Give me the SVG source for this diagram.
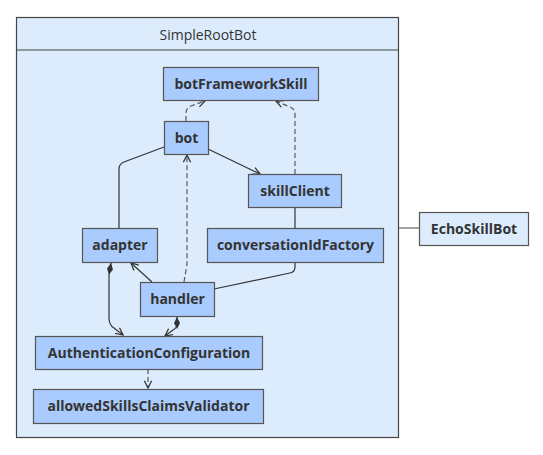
<svg xmlns="http://www.w3.org/2000/svg" width="543" height="455" viewBox="0 0 543 455">
<defs>
<style>
.n{fill:#a9cbfd;stroke:#555;stroke-width:1.2}
.lt{fill:#dcecfd;stroke:#555;stroke-width:1.2}
.t{font-family:"Open Sans","Noto Sans",sans-serif;font-weight:bold;font-size:14px;fill:#333;text-anchor:middle}
.c{fill:none;stroke:#333;stroke-width:1.2}
.d{stroke-dasharray:5,3;stroke:#555}
</style>
<marker id="a" viewBox="0 0 10 10" refX="9" refY="5" markerWidth="9" markerHeight="9" markerUnits="userSpaceOnUse" orient="auto">
<path d="M1,1 L9,5 L1,9" fill="none" stroke="#333" stroke-width="1.4"/>
</marker>
<marker id="dm" viewBox="0 0 12 6" refX="0" refY="3" markerWidth="12" markerHeight="6" markerUnits="userSpaceOnUse" orient="auto">
<path d="M0,3 L6,0 L12,3 L6,6 Z" fill="#333"/>
</marker>
</defs>
<g id="SimpleRootBot">
<rect x="16.5" y="17.5" width="382" height="420" fill="#dcecfd" stroke="#444" stroke-width="1.2"/>
<line x1="16.5" y1="50" x2="398.5" y2="50" stroke="#444" stroke-width="1.2"/>
<text x="208" y="40" font-family="'Open Sans','Noto Sans',sans-serif" font-size="14" fill="#333" text-anchor="middle">SimpleRootBot</text>
</g>
<g id="connectors">
<path class="c d" d="M186,121 L186,113 Q186,108 191,106 L205,101" marker-end="url(#a)"/>
<path class="c d" d="M295,174 L295,114 Q295,109 290,107 L276,101" marker-end="url(#a)"/>
<path class="c" d="M208,149 L260,174" marker-end="url(#a)"/>
<path class="c" d="M164,147 L124,162 Q119,164 119,169 L119,228"/>
<path class="c" d="M295,208 L295,228"/>
<path class="c" d="M295,262 L295,267 Q295,272 290,273 L214,289"/>
<path class="c d" d="M184,282 L186,270 Q187,266 187,262 L187,155" marker-end="url(#a)"/>
<path class="c" d="M152,282 L131,263" marker-end="url(#a)"/>
<path class="c" d="M111,263 L109,275 L109,318 Q109,325 114,328 L123,335" marker-start="url(#dm)" marker-end="url(#a)"/>
<path class="c" d="M177,317 L177,324 Q177,328 173,330 L165,336" marker-start="url(#dm)" marker-end="url(#a)"/>
<path class="c d" d="M148,369 L148,388" marker-end="url(#a)"/>
<path d="M399,228 L419,228" stroke="#666" stroke-width="1.2"/>
</g>
<g id="botFrameworkSkill"><rect class="n" x="163.5" y="67.5" width="155" height="33"/><text class="t" x="241" y="89">botFrameworkSkill</text></g>
<g id="bot"><rect class="n" x="164.5" y="121.5" width="44" height="33"/><text class="t" x="186.5" y="143">bot</text></g>
<g id="skillClient"><rect class="n" x="248.5" y="174.5" width="93" height="33"/><text class="t" x="295" y="196">skillClient</text></g>
<g id="adapter"><rect class="n" x="82.5" y="228.5" width="75" height="34"/><text class="t" x="120" y="250">adapter</text></g>
<g id="conversationIdFactory"><rect class="n" x="207.5" y="228.5" width="176" height="34"/><text class="t" x="295.5" y="250">conversationIdFactory</text></g>
<g id="handler"><rect class="n" x="140.5" y="282.5" width="74" height="34"/><text class="t" x="177.5" y="304">handler</text></g>
<g id="AuthenticationConfiguration"><rect class="n" x="35.5" y="336.5" width="227" height="33"/><text class="t" x="149" y="358">AuthenticationConfiguration</text></g>
<g id="allowedSkillsClaimsValidator"><rect class="n" x="33.5" y="389.5" width="230" height="34"/><text class="t" x="148.5" y="411">allowedSkillsClaimsValidator</text></g>
<g id="EchoSkillBot"><rect class="lt" x="419.5" y="212.5" width="109" height="33"/><text class="t" x="474" y="234">EchoSkillBot</text></g>
</svg>
